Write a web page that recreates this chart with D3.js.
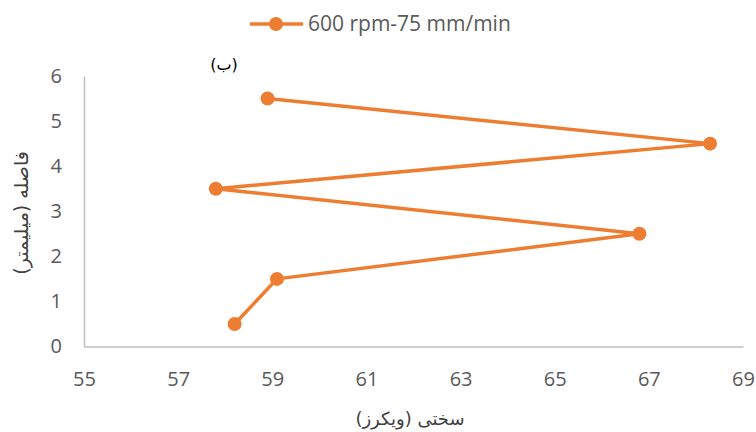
<!DOCTYPE html>
<html><head><meta charset="utf-8">
<script src="https://cdn.jsdelivr.net/npm/d3@7"></script>
<style>body{margin:0;background:#fff}svg{display:block}</style>
</head><body>
<svg id="c" width="756" height="432"></svg>
<script>
const seriesName = "600 rpm-75 mm/min";
const hardness = [58.2, 59.1, 66.8, 57.8, 68.3, 58.9];
const distance = [0.5, 1.5, 2.5, 3.5, 4.5, 5.5];
const xTicks = [55, 57, 59, 61, 63, 65, 67, 69];
const yTicks = [0, 1, 2, 3, 4, 5, 6];
const xTitle = "سختی (ویکرز)";
const yTitle = "فاصله (میلیمتر)";
const panelLabel = "(ب)";

const color = "#ED7D31";
const svg = d3.select("#c");
const x = d3.scaleLinear().domain([55, 69]).range([84, 743]);
const y = d3.scaleLinear().domain([0, 6]).range([346.5, 76]);
const tickFont = "Open Sans, Liberation Sans, sans-serif";

// axes
const xa = svg.append("g").attr("transform", `translate(0,${y(0)})`)
  .call(d3.axisBottom(x).tickValues(xTicks).tickSize(0).tickPadding(25).tickFormat(d3.format("d")));
const ya = svg.append("g").attr("transform", `translate(${x(55)},0)`)
  .call(d3.axisLeft(y).tickValues(yTicks).tickSize(0).tickPadding(22).tickFormat(d3.format("d")));
[xa, ya].forEach(a => {
  a.attr("font-size", null).attr("font-family", null);
  a.select(".domain").attr("stroke", "#bfbfbf").attr("stroke-width", 1.5);
  a.selectAll("text").attr("fill", "#595959").style("font-size", "20px").style("font-family", tickFont);
});

// line
const pts = hardness.map((h, i) => [h, distance[i]]);
svg.append("path").datum(pts)
  .attr("fill", "none").attr("stroke", color).attr("stroke-width", 3.5)
  .attr("stroke-linejoin", "round")
  .attr("d", d3.line().x(d => x(d[0])).y(d => y(d[1])));
svg.selectAll("circle.pt").data(pts).enter().append("circle")
  .attr("class", "pt").attr("cx", d => x(d[0])).attr("cy", d => y(d[1]))
  .attr("r", 7).attr("fill", color);

// legend
const lg = svg.append("g");
lg.append("line").attr("x1", 250).attr("x2", 303).attr("y1", 24).attr("y2", 24)
  .attr("stroke", color).attr("stroke-width", 3.5);
lg.append("circle").attr("cx", 276).attr("cy", 24).attr("r", 7).attr("fill", color);
lg.append("text").attr("x", 308).attr("y", 31).text(seriesName)
  .attr("fill", "#595959").style("font-size", "21px").style("font-family", tickFont);

// titles
svg.append("text").attr("x", 224).attr("y", 70).attr("text-anchor", "middle")
  .attr("direction", "rtl").text(panelLabel)
  .style("font-family", "DejaVu Sans, sans-serif").style("font-size", "16px").attr("fill", "#000");
svg.append("text").attr("transform", "translate(28,213) rotate(-90)")
  .attr("text-anchor", "middle").attr("direction", "rtl").text(yTitle)
  .style("font-family", "DejaVu Sans, sans-serif").style("font-size", "19px").attr("fill", "#404040");
svg.append("text").attr("x", 410).attr("y", 425).attr("text-anchor", "middle")
  .attr("direction", "rtl").text(xTitle)
  .style("font-family", "DejaVu Sans, sans-serif").style("font-size", "18px").attr("fill", "#404040");
</script>
</body></html>
